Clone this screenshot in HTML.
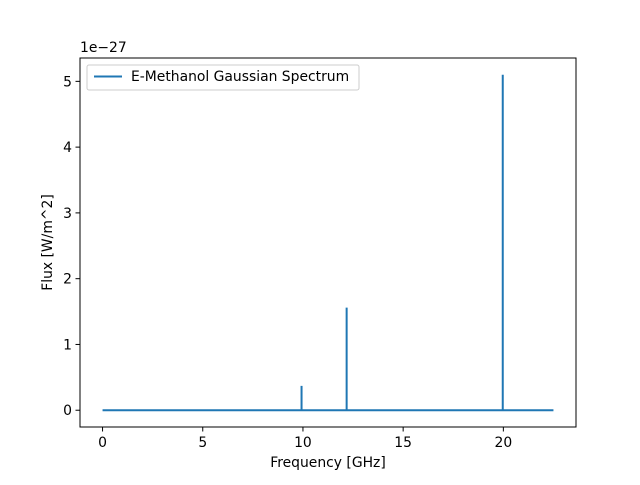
<!DOCTYPE html>
<html><head><meta charset="utf-8"><style>
body{margin:0;background:#fff;}
svg text{font-family:"DejaVu Sans","Liberation Sans",sans-serif;}
</style></head><body>
<svg id="chart" width="640" height="480" xmlns="http://www.w3.org/2000/svg">
<rect width="640" height="480" fill="#fff"/>
</svg>
<script>
const xTicks=[0,5,10,15,20];
const yTicks=[0,1,2,3,4,5];
const peakFreqs=[9.93,12.18,19.97];
const peakFlux=[0.37,1.56,5.10];
const freqRange=[0,22.5];
const X0=80,X1=576,Y0=58,Y1=427;
const xmin=-1.125,xmax=23.625,ymin=-0.255,ymax=5.355;
const sx=v=>X0+(v-xmin)/(xmax-xmin)*(X1-X0);
const sy=v=>Y1-(v-ymin)/(ymax-ymin)*(Y1-Y0);
const svg=document.getElementById('chart');
const NS='http://www.w3.org/2000/svg';
function mk(t,a,p){const e=document.createElementNS(NS,t);for(const k in a)e.setAttribute(k,a[k]);(p||svg).appendChild(e);return e;}
let pts=[[freqRange[0],0]];
const idx=peakFreqs.map((f,i)=>i).sort((a,b)=>peakFreqs[a]-peakFreqs[b]);
idx.forEach(i=>{pts.push([peakFreqs[i],0],[peakFreqs[i],peakFlux[i]],[peakFreqs[i],0]);});
pts.push([freqRange[1],0]);
const line=mk('polyline',{points:pts.map(p=>sx(p[0]).toFixed(2)+','+sy(p[1]).toFixed(2)).join(' '),fill:'none',stroke:'#1f77b4','stroke-width':2});


const frame=mk('rect',{x:X0,y:Y0,width:X1-X0,height:Y1-Y0,fill:'none',stroke:'#000','stroke-width':1});


xTicks.forEach(v=>{const x=sx(v);
 const t=mk('line',{x1:x,x2:x,y1:Y1,y2:Y1+4.5,stroke:'#000','stroke-width':1});
 
 
 const l=mk('text',{x:x,y:Y1+20,'text-anchor':'middle','font-size':13.9});l.textContent=v;
 
 
});
yTicks.forEach(v=>{const y=sy(v);
 const t=mk('line',{x1:X0-4.5,x2:X0,y1:y,y2:y,stroke:'#000','stroke-width':1});
 
 
 const l=mk('text',{x:X0-8,y:y+5,'text-anchor':'end','font-size':13.9});l.textContent=v;
 
 
});
</script>
<svg width="640" height="480" style="position:absolute;left:0;top:0" xmlns="http://www.w3.org/2000/svg">
<text x="80" y="52" font-size="13.9">1e−27</text>
<text x="328" y="467" text-anchor="middle" font-size="13.9">Frequency [GHz]</text>
<text transform="translate(52,242.5) rotate(-90)" text-anchor="middle" font-size="13.9">Flux [W/m^2]</text>
<g>
<rect x="87" y="65" width="272" height="25" rx="2" fill="#fff" stroke="#ccc" stroke-width="1"/>
<line x1="94" x2="122" y1="76.5" y2="76.5" stroke="#1f77b4" stroke-width="2"/>
<text x="131" y="81" font-size="13.9">E-Methanol Gaussian Spectrum</text>
</g>
</svg>
</body></html>
